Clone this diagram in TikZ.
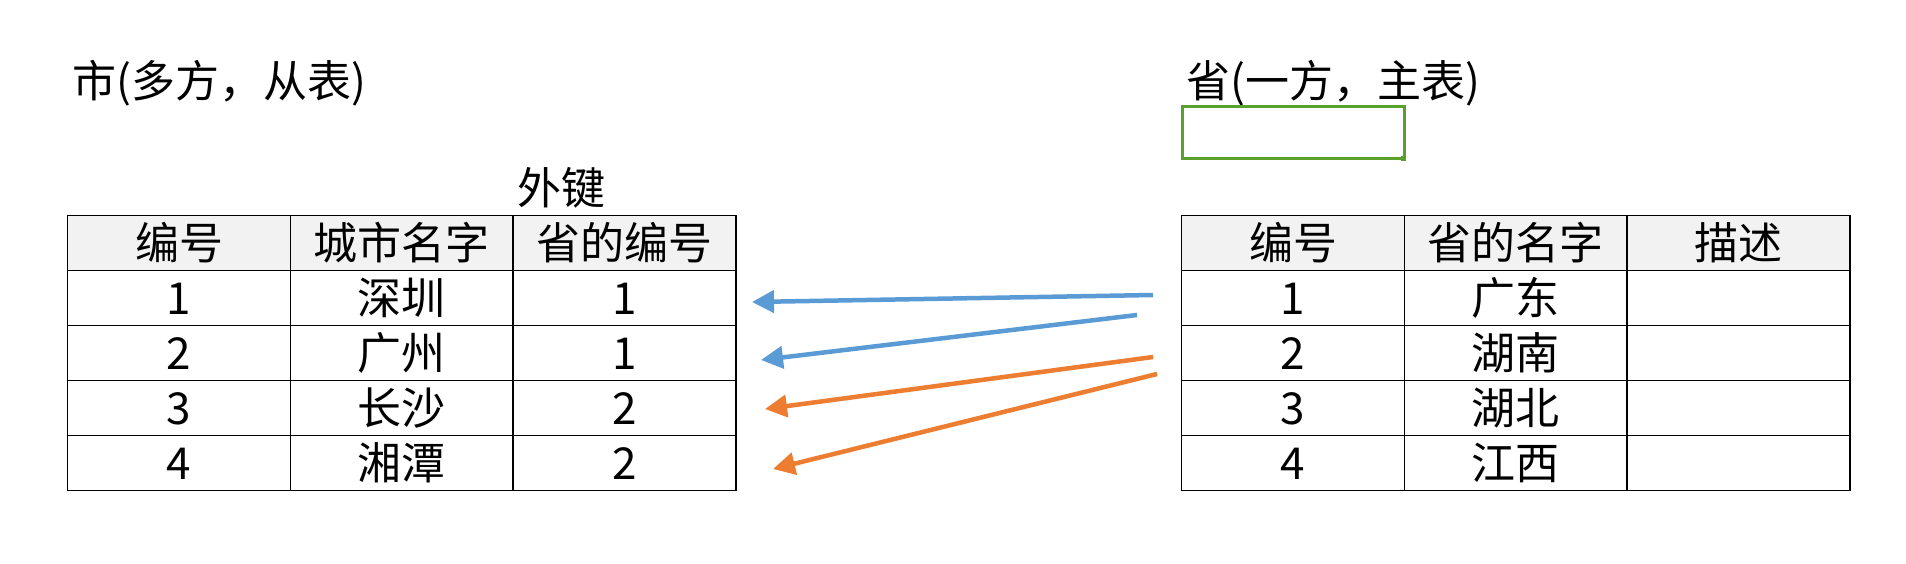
\documentclass[tikz,border=0pt]{standalone}
\usepackage{fontspec}
\newfontfamily\cjk{Noto Sans CJK SC}
\usetikzlibrary{arrows.meta}
\definecolor{hdrfill}{HTML}{F2F2F2}
\definecolor{linkblue}{HTML}{5B9BD5}
\definecolor{linkorange}{HTML}{ED7D31}
\definecolor{selgreen}{HTML}{5AA02C}
\begin{document}
\begin{tikzpicture}[x=1pt,y=-1pt,
  txt/.style={font=\cjk\fontsize{44}{44}\selectfont, inner sep=0pt},
  cell/.style={txt, draw=black, line width=1.4pt, minimum width=222.7pt, minimum height=55pt,
    text height=37pt, text depth=4pt, anchor=north west},
  hdr/.style={cell, fill=hdrfill},
  link/.style={line width=4.5pt, -{Triangle[length=22pt,width=22pt]}},
  bluelink/.style={link, draw=linkblue, fill=linkblue},
  orangelink/.style={link, draw=linkorange, fill=linkorange}]
\path[use as bounding box] (0,0) rectangle (1906,564);
\fill[white] (0,0) rectangle (1906,564);

% titles
\node[txt, anchor=west] (ltitle) at (72,83) {市(多方，从表)};
\node[txt, anchor=west] (rtitle) at (1186,83) {省(一方，主表)};
\node[txt] (fk) at (561,188) {外键};

% left table
\node[hdr] (L01) at (67,215) {编号};
\node[hdr] (L02) at (289.7,215) {城市名字};
\node[hdr] (L03) at (512.4,215) {省的编号};
\node[cell] (L11) at (67,270) {1};
\node[cell] (L12) at (289.7,270) {深圳};
\node[cell] (L13) at (512.4,270) {1};
\node[cell] (L21) at (67,325) {2};
\node[cell] (L22) at (289.7,325) {广州};
\node[cell] (L23) at (512.4,325) {1};
\node[cell] (L31) at (67,380) {3};
\node[cell] (L32) at (289.7,380) {长沙};
\node[cell] (L33) at (512.4,380) {2};
\node[cell] (L41) at (67,435) {4};
\node[cell] (L42) at (289.7,435) {湘潭};
\node[cell] (L43) at (512.4,435) {2};

% right table
\node[hdr] (R01) at (1181,215) {编号};
\node[hdr] (R02) at (1403.7,215) {省的名字};
\node[hdr] (R03) at (1626.4,215) {描述};
\node[cell] (R11) at (1181,270) {1};
\node[cell] (R12) at (1403.7,270) {广东};
\node[cell] (R13) at (1626.4,270) {};
\node[cell] (R21) at (1181,325) {2};
\node[cell] (R22) at (1403.7,325) {湖南};
\node[cell] (R23) at (1626.4,325) {};
\node[cell] (R31) at (1181,380) {3};
\node[cell] (R32) at (1403.7,380) {湖北};
\node[cell] (R33) at (1626.4,380) {};
\node[cell] (R41) at (1181,435) {4};
\node[cell] (R42) at (1403.7,435) {江西};
\node[cell] (R43) at (1626.4,435) {};

% green selection box
\draw[selgreen, line width=3pt] (1182.5,106.5) rectangle (1404,158.5);
\fill[selgreen] (1401,156) rectangle (1406,161);

% link arrows
\coordinate (b1s) at (1153,295);
\coordinate (b1e) at (752,302);
\coordinate (b2s) at (1137,315);
\coordinate (b2e) at (761,360);
\coordinate (o1s) at (1153,357);
\coordinate (o1e) at (765,409);
\coordinate (o2s) at (1157,374);
\coordinate (o2e) at (773,469);
\draw[bluelink] (b1s) -- (b1e);
\draw[bluelink] (b2s) -- (b2e);
\draw[orangelink] (o1s) -- (o1e);
\draw[orangelink] (o2s) -- (o2e);
\end{tikzpicture}
\end{document}
